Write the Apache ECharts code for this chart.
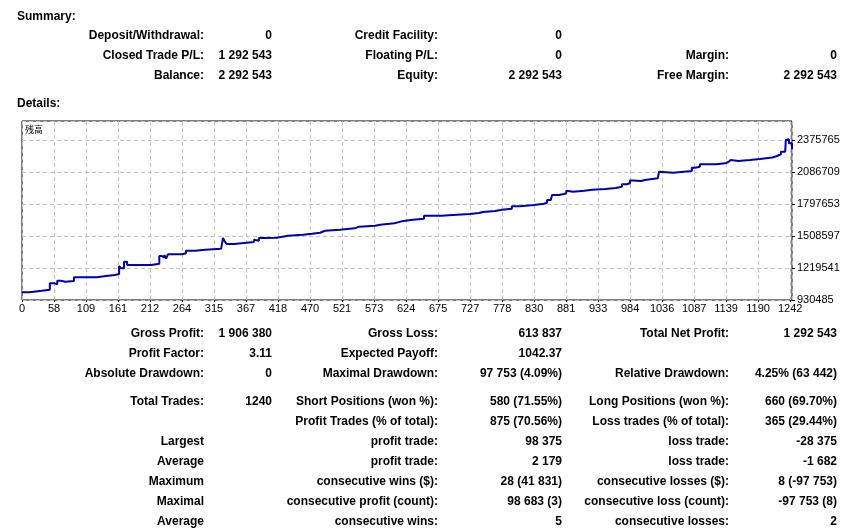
<!DOCTYPE html>
<html lang="en">
<head>
  <meta charset="UTF-8">
  <title>Strategy Tester Report</title>
  <style>
    html, body {
      margin: 0;
      padding: 0;
      width: 857px;
      height: 531px;
      background: #fff;
      overflow: hidden;
    }
    #container {
      position: absolute;
      left: 0;
      top: 0;
      width: 857px;
      height: 531px;
    }
    .t {
      position: absolute;
      font: bold 12px 'Liberation Sans', Arial, sans-serif;
      color: #000;
      white-space: nowrap;
      line-height: 14px;
    }
  </style>
</head>
<body>
  <div id="container"></div>
  <div id="text"></div>
</body>
<script src="https://cdn.jsdelivr.net/npm/echarts@6/dist/echarts.min.js"></script>
<script>
  // balance curve (trade number -> balance)
  var trades = [0, 12, 32, 45, 53, 57, 63, 70, 84, 121, 136, 150, 157, 160, 165, 170, 209, 222, 226, 230,
    233, 236, 259, 265, 280, 296, 322, 325, 328, 331, 343, 359, 375, 378, 383, 391, 412, 419, 430, 454,
    469, 482, 490, 514, 538, 545, 571, 579, 602, 614, 632, 650, 678, 690, 724, 739, 745, 765, 776, 792,
    805, 828, 844, 849, 855, 857, 868, 876, 880, 883, 891, 909, 922, 943, 960, 970, 978, 983, 988, 1001,
    1007, 1028, 1030, 1033, 1053, 1083, 1088, 1091, 1096, 1122, 1137, 1142, 1146, 1158, 1177, 1193, 1213,
    1221, 1227, 1234, 1235, 1238, 1240, 1245]
  var balance = [1000000, 1014000, 1024000, 1081000, 1072000, 1105000, 1096000, 1102000, 1136000, 1147000,
    1156000, 1165000, 1238000, 1217000, 1276000, 1247000, 1258000, 1328000, 1313000, 1337000,
    1304000, 1343000, 1352000, 1376000, 1385000, 1394000, 1405000, 1491000, 1457000, 1436000,
    1445000, 1454000, 1475000, 1466000, 1491000, 1493000, 1500000, 1511000, 1520000, 1529000,
    1538000, 1556000, 1566000, 1578000, 1593000, 1602000, 1611000, 1623000, 1641000, 1656000,
    1665000, 1692000, 1696000, 1707000, 1716000, 1725000, 1734000, 1746000, 1755000, 1777000,
    1789000, 1800000, 1809000, 1834000, 1846000, 1879000, 1888000, 1894000, 1918000, 1909000,
    1917000, 1927000, 1933000, 1942000, 1954000, 1976000, 1985000, 2010000, 2005000, 2014000,
    2030000, 2042000, 2089000, 2080000, 2096000, 2126000, 2144000, 2135000, 2156000, 2165000,
    2177000, 2195000, 2186000, 2195000, 2204000, 2218000, 2231000, 2247000, 2270000, 2285000,
    2376000, 2382000, 2346000, 2292543]

  var xTickLabels = ['0', '58', '109', '161', '212', '264', '315', '367', '418', '470', '521', '573', '624',
    '675', '727', '778', '830', '881', '933', '984', '1036', '1087', '1139', '1190', '1242']
  var xStep = 51.75
  var xMax = 1245
  var yMin = 930485
  var yStep = 289056
  var yMax = 2547392

  // report text
  var summaryRows = [
    ['Deposit/Withdrawal:', '0', 'Credit Facility:', '0', '', ''],
    ['Closed Trade P/L:', '1 292 543', 'Floating P/L:', '0', 'Margin:', '0'],
    ['Balance:', '2 292 543', 'Equity:', '2 292 543', 'Free Margin:', '2 292 543']
  ]
  var detailRows = [
    ['Gross Profit:', '1 906 380', 'Gross Loss:', '613 837', 'Total Net Profit:', '1 292 543'],
    ['Profit Factor:', '3.11', 'Expected Payoff:', '1042.37', '', ''],
    ['Absolute Drawdown:', '0', 'Maximal Drawdown:', '97 753 (4.09%)', 'Relative Drawdown:', '4.25% (63 442)'],
    ['Total Trades:', '1240', 'Short Positions (won %):', '580 (71.55%)', 'Long Positions (won %):', '660 (69.70%)'],
    ['', '', 'Profit Trades (% of total):', '875 (70.56%)', 'Loss trades (% of total):', '365 (29.44%)'],
    ['Largest', '', 'profit trade:', '98 375', 'loss trade:', '-28 375'],
    ['Average', '', 'profit trade:', '2 179', 'loss trade:', '-1 682'],
    ['Maximum', '', 'consecutive wins ($):', '28 (41 831)', 'consecutive losses ($):', '8 (-97 753)'],
    ['Maximal', '', 'consecutive profit (count):', '98 683 (3)', 'consecutive loss (count):', '-97 753 (8)'],
    ['Average', '', 'consecutive wins:', '5', 'consecutive losses:', '2']
  ]
  var colRight = [204, 272, 438, 562, 729, 837]
  var summaryY = [35, 55, 75]
  var detailY = [333, 353, 373, 401, 421, 441, 461, 481, 501, 521]

  window.onload = function () {
    var box = document.querySelector('#text')
    var put = function (str, x, y, right) {
      var d = document.createElement('div')
      d.className = 't'
      d.textContent = str
      d.style.top = (y - 7) + 'px'
      if (right) {
        d.style.right = (857 - x) + 'px'
        d.style.textAlign = 'right'
      } else {
        d.style.left = x + 'px'
      }
      box.appendChild(d)
    }
    put('Summary:', 17, 16, false)
    put('Details:', 17, 103, false)
    summaryRows.forEach(function (row, i) {
      row.forEach(function (s, j) { if (s) put(s, colRight[j], summaryY[i], true) })
    })
    detailRows.forEach(function (row, i) {
      row.forEach(function (s, j) { if (s) put(s, colRight[j], detailY[i], true) })
    })

    var points = trades.map(function (t, i) { return [t, balance[i]] })
    var gridLine = { show: true, lineStyle: { color: '#c4c4c4', type: [4, 3], width: 1 } }
    var charts = echarts.init(document.querySelector('#container'))
    charts.setOption({
      animation: false,
      grid: {
        left: 22, top: 121, width: 770, height: 179,
        show: true, borderColor: '#000', borderWidth: 1, backgroundColor: '#fff'
      },
      graphic: [{
        type: 'text', left: 25, top: 125,
        style: { text: '残高', font: '9px "Noto Sans CJK JP"', fill: '#000' }
      }],
      xAxis: {
        type: 'value', min: 0, max: xMax, interval: xStep,
        axisLine: { show: false, onZero: false },
        axisTick: { show: true, length: 2, lineStyle: { color: '#000' } },
        splitLine: gridLine,
        axisLabel: {
          color: '#000', fontSize: 11, margin: 3, showMaxLabel: false,
          fontFamily: '"Liberation Sans Narrow", "Liberation Sans", sans-serif',
          formatter: function (v) { return xTickLabels[Math.round(v / xStep)] || '' }
        }
      },
      yAxis: {
        type: 'value', position: 'right', min: yMin, max: yMax, interval: yStep,
        axisLine: { show: false, onZero: false },
        axisTick: { show: true, length: 3, lineStyle: { color: '#000' } },
        splitLine: gridLine,
        axisLabel: {
          color: '#000', fontSize: 11, margin: 5, showMaxLabel: false,
          padding: [0, 0, 4, 0],
          fontFamily: '"Liberation Sans Narrow", "Liberation Sans", sans-serif',
          formatter: function (v) { return String(Math.round(v)) }
        }
      },
      series: [{
        type: 'line',
        step: 'end',
        data: points,
        showSymbol: false,
        clip: true,
        lineStyle: { color: '#0000b0', width: 2 }
      }]
    })
  }
</script>
</html>
